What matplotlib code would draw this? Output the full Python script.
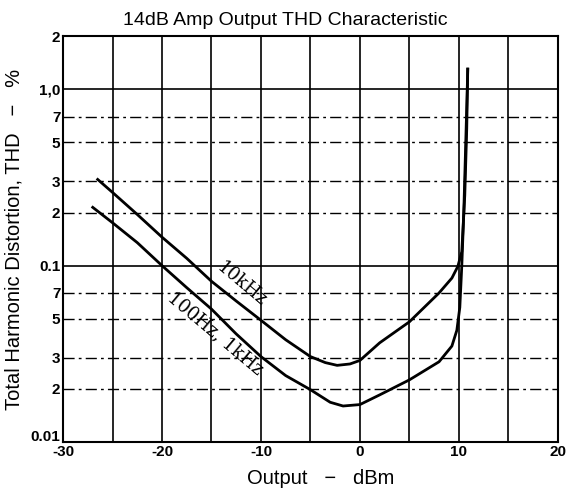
import matplotlib.pyplot as plt
from matplotlib.transforms import ScaledTranslation

plt.rcParams['font.family'] = ['Liberation Sans', 'DejaVu Sans']

# 10kHz curve
x_10k = [-26.5, -25, -22.5, -20, -17.5, -15, -12.5, -10, -7.5, -5, -3.5, -2.3,
         -1, 0, 2, 5, 8, 9.3, 9.9, 10.3, 10.6, 10.8, 10.9]
thd_10k = [0.308, 0.26, 0.195, 0.145, 0.11, 0.0815, 0.063, 0.049, 0.038, 0.0305,
           0.0282, 0.0272, 0.0277, 0.029, 0.0365, 0.048, 0.070, 0.085, 0.099,
           0.12, 0.25, 0.6, 1.3]

# 100Hz, 1kHz curve
x_1k = [-27, -25, -22.5, -20, -17.5, -15, -12.5, -10, -7.5, -5, -3, -1.7, 0,
        2, 5, 8, 9.3, 9.8, 10.1, 10.3, 10.5, 10.7, 10.85, 10.9]
thd_1k = [0.214, 0.175, 0.135, 0.1, 0.075, 0.0567, 0.041, 0.0305, 0.0238,
          0.0198, 0.0168, 0.016, 0.0163, 0.0185, 0.0225, 0.0285, 0.035, 0.043,
          0.058, 0.1, 0.2, 0.5, 1.0, 1.3]

x_ticks = [-30, -20, -10, 0, 10, 20]
y_ticks = [0.01, 0.02, 0.03, 0.05, 0.07, 0.1, 0.2, 0.3, 0.5, 0.7, 1.0, 2.0]
y_labels = ['0.01', '2', '3', '5', '7', '0.1', '2', '3', '5', '7', '1,0', '2']

fig = plt.figure(figsize=(5.68, 4.92), dpi=100)
ax = fig.add_axes([0.111, 0.1016, 0.871, 0.825])

ax.set_yscale('log')
ax.set_xlim(-30, 20)
ax.set_ylim(0.01, 2)

# grid: solid verticals every 5 dB, solid decades, dashed in between
for gx in range(-25, 20, 5):
    ax.axvline(gx, color='black', lw=1.2, zorder=1)
for gy in y_ticks[1:-1]:
    if gy in (0.1, 1.0):
        ax.axhline(gy, color='black', lw=1.2, zorder=1)
    else:
        ax.axhline(gy, color='black', lw=1.0, ls=(0, (8, 3, 2, 3)), zorder=1)

ax.plot(x_10k, thd_10k, color='black', lw=2.0, zorder=3)
ax.plot(x_1k, thd_1k, color='black', lw=2.0, zorder=3)

ax.text(-12.0, 0.078, '10kHz', rotation=-40, ha='center', va='center',
        family='DejaVu Serif', fontsize=13, zorder=4)
ax.text(-14.6, 0.0415, '100Hz, 1kHz', rotation=-40, ha='center', va='center',
        family='DejaVu Serif', fontsize=13, zorder=4)

ax.set_xticks(x_ticks)
ax.set_xticklabels([str(t) for t in x_ticks], fontweight='bold', fontsize=11)
ax.set_yticks(y_ticks)
ax.set_yticklabels(y_labels, fontweight='bold', fontsize=11)
ax.minorticks_off()
ax.tick_params(length=0, pad=2)
# lift the bottom y label a little so it clears "-30"
lab0 = ax.get_yticklabels()[0]
lab0.set_transform(lab0.get_transform() + ScaledTranslation(0, 5 / 72, fig.dpi_scale_trans))

for s in ax.spines.values():
    s.set_linewidth(1.5)

ax.set_title('14dB Amp Output THD Characteristic', fontsize=14, x=0.45, pad=8)
ax.set_xlabel('Output   \u2212   dBm', fontsize=14.5, labelpad=3)
ax.xaxis.set_label_coords(0.52, -0.066)
ax.set_ylabel('Total Harmonic Distortion, THD   \u2212   %', fontsize=14.5,
              labelpad=5)

plt.savefig('out.png')
